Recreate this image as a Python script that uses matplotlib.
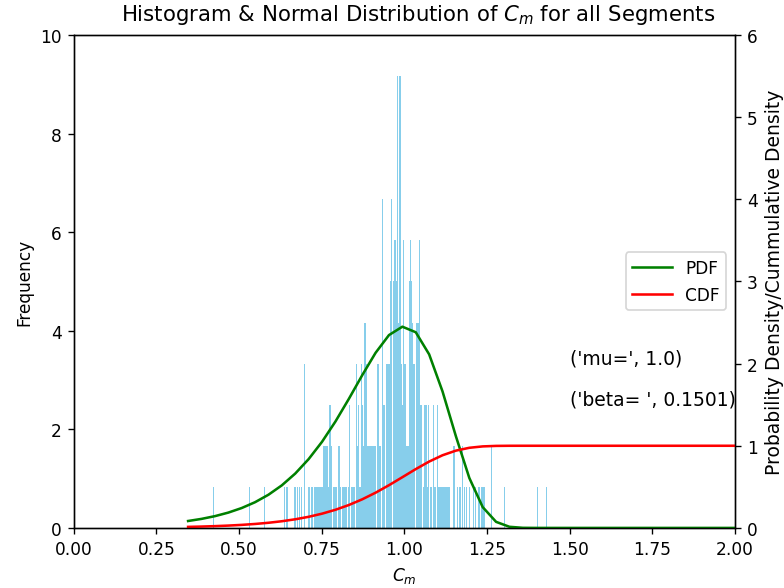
import matplotlib
matplotlib.use("Agg")
import matplotlib.pyplot as plt

# histogram bins (centre of C_m bin, count in that bin)
bin_centres = [
    0.424, 0.533, 0.578, 0.638, 0.645, 0.667, 0.672, 0.677, 0.683, 0.690,
    0.699, 0.710, 0.714, 0.719, 0.723, 0.729, 0.732, 0.736, 0.739, 0.743,
    0.746, 0.749, 0.753, 0.756, 0.760, 0.763, 0.767, 0.771, 0.775, 0.778,
    0.781, 0.785, 0.788, 0.792, 0.795, 0.800, 0.804, 0.808, 0.812, 0.815,
    0.819, 0.822, 0.826, 0.830, 0.835, 0.839, 0.842, 0.846, 0.849, 0.855,
    0.859, 0.862, 0.866, 0.870, 0.873, 0.877, 0.881, 0.884, 0.888, 0.892,
    0.895, 0.899, 0.903, 0.906, 0.910, 0.914, 0.918, 0.921, 0.925, 0.929,
    0.933, 0.937, 0.941, 0.945, 0.948, 0.952, 0.955, 0.959, 0.962, 0.966,
    0.969, 0.973, 0.976, 0.980, 0.983, 0.987, 0.990, 0.994, 0.997, 1.001,
    1.004, 1.008, 1.011, 1.015, 1.018, 1.022, 1.025, 1.029, 1.032, 1.036,
    1.039, 1.043, 1.046, 1.050, 1.053, 1.057, 1.060, 1.064, 1.067, 1.071,
    1.074, 1.078, 1.081, 1.088, 1.092, 1.095, 1.099, 1.102, 1.106, 1.109,
    1.113, 1.116, 1.120, 1.123, 1.127, 1.130, 1.134, 1.137, 1.148, 1.151,
    1.160, 1.166, 1.171, 1.176, 1.182, 1.189, 1.196, 1.208, 1.215, 1.223,
    1.228, 1.235, 1.241, 1.264, 1.304, 1.402, 1.430,
]
bin_counts = [
    1, 1, 1, 1, 1, 1, 1, 1, 1, 1,
    4, 1, 1, 1, 1, 1, 1, 1, 1, 1,
    1, 1, 1, 2, 2, 2, 2, 1, 3, 2,
    2, 1, 1, 1, 1, 2, 2, 1, 1, 1,
    1, 1, 1, 1, 3, 1, 1, 1, 1, 4,
    2, 3, 1, 4, 3, 2, 5, 4, 2, 2,
    2, 2, 2, 2, 2, 2, 4, 4, 2, 2,
    8, 3, 3, 4, 4, 4, 4, 6, 8, 6,
    7, 7, 6, 11, 5, 11, 4, 3, 7, 4,
    4, 2, 2, 6, 7, 6, 5, 4, 4, 5,
    5, 5, 7, 3, 3, 1, 3, 3, 3, 1,
    3, 1, 1, 3, 1, 1, 3, 1, 1, 1,
    1, 1, 1, 1, 1, 1, 1, 1, 2, 2,
    1, 1, 1, 2, 1, 1, 1, 1, 1, 1,
    1, 1, 1, 2, 1, 1, 1,
]
bin_width = 0.0034
density_unit = 0.8333  # 1 / (N * bin_width)

# fitted curve (mu = 1.0, beta = 0.1501)
mu = 1.0
beta = 0.1501
curve_x = [
    0.346, 0.3865, 0.427, 0.4675, 0.508, 0.5485, 0.589, 0.6295, 0.670, 0.7105,
    0.751, 0.7915, 0.832, 0.8725, 0.913, 0.9535, 0.994, 1.0345, 1.075, 1.1155,
    1.156, 1.1965, 1.237, 1.2775, 1.318, 1.3585, 1.399, 1.4395, 2.0,
]
pdf_vals = [
    0.0843, 0.1099, 0.1432, 0.1864, 0.2420, 0.3131, 0.4039, 0.5184, 0.6616, 0.8375,
    1.0481, 1.2945, 1.5696, 1.8581, 2.1313, 2.3471, 2.4491, 2.3817, 2.1127, 1.6609,
    1.1145, 0.6081, 0.2530, 0.0738, 0.0135, 0.0013, 0.0001, 0.0, 0.0,
]
cdf_vals = [
    0.0127, 0.0166, 0.0217, 0.0284, 0.0370, 0.0482, 0.0627, 0.0813, 0.1051, 0.1353,
    0.1734, 0.2207, 0.2786, 0.3480, 0.4288, 0.5199, 0.6174, 0.7159, 0.8076, 0.8845,
    0.9408, 0.9753, 0.9922, 0.9983, 0.9998, 1.0, 1.0, 1.0, 1.0,
]

fig, ax = plt.subplots(figsize=(6.4, 4.808), dpi=122.5)
fig.subplots_adjust(left=0.094, right=0.9375, bottom=0.102, top=0.939)

heights = [c * density_unit for c in bin_counts]
ax.bar(bin_centres, heights, width=bin_width, color='skyblue')
ax.set_xlim(0, 2.0)
ax.set_ylim(0, 10)
ax.set_xlabel('$C_m$')
ax.set_ylabel('Frequency')
ax.set_title('Histogram & Normal Distribution of $C_m$ for all Segments',
             fontsize=12.5, pad=9, x=0.521)

ax2 = ax.twinx()
ax2.plot(curve_x, pdf_vals, color='g', label='PDF')
ax2.plot(curve_x, cdf_vals, color='r', label='CDF')
ax2.set_ylim(0, 6)
ax2.set_ylabel('Probability Density/Cummulative Density', fontsize=11)
ax2.legend(loc='center right', handlelength=2.3)
ax2.text(1.5, 2.0, str(('mu=', mu)), fontsize=11)
ax2.text(1.5, 1.5, str(('beta= ', beta)), fontsize=11)

plt.savefig('out.png')
